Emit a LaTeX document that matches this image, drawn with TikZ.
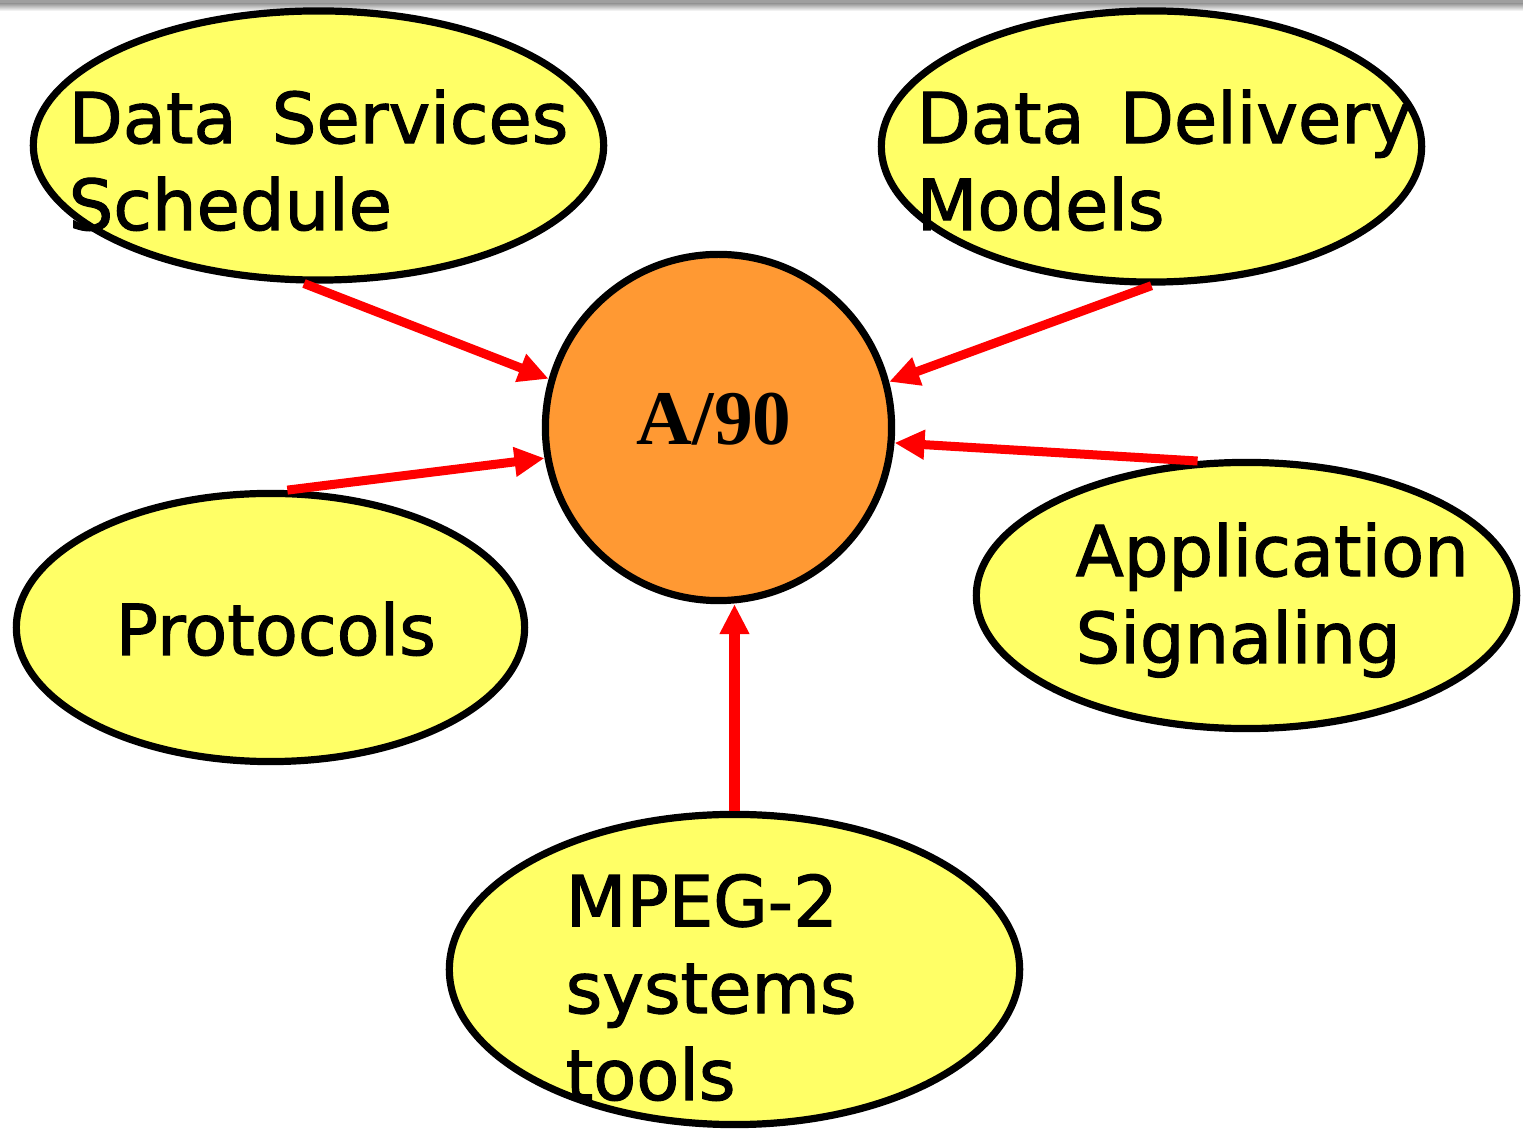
\documentclass[tikz,border=0pt]{standalone}
\usepackage{fontspec}
\usetikzlibrary{arrows.meta, shapes.geometric}
\newfontfamily\labelfont[FakeBold=1.5]{DejaVu Sans}
\newfontfamily\titlefont{Liberation Serif}
\definecolor{topicyellow}{RGB}{255, 255, 102}
\definecolor{coreorange}{RGB}{255, 153, 51}
\definecolor{feedred}{RGB}{255, 0, 0}

\begin{document}
\begin{tikzpicture}[x=0.01cm, y=-0.01cm,
    topic/.style={ellipse, draw=black, line width=0.072cm, fill=topicyellow, inner sep=0pt},
    txt/.style={anchor=base west, inner sep=0pt, align=left,
      font=\labelfont\fontsize{20}{24.7}\selectfont},
    feed/.style={draw=feedred, line width=0.09cm, -{Triangle[length=0.3cm, width=0.28cm]}}]
  \useasboundingbox (0,0) rectangle (1523,1131);

  % grey strip along the top edge
  \fill[gray!75] (0,0) rectangle (1523,4);
  \shade[top color=gray!75, bottom color=white] (0,4) rectangle (1523,11);

  % the five topics round the standard
  \node[topic, minimum width=5.70cm, minimum height=2.69cm] (dss) at (318.5,145.5) {};
  \node[topic, minimum width=5.40cm, minimum height=2.71cm] (ddm) at (1151.5,146.5) {};
  \node[topic, minimum width=5.08cm, minimum height=2.68cm] (prot) at (270.5,627.5) {};
  \node[topic, minimum width=5.40cm, minimum height=2.66cm] (app) at (1246.5,595.5) {};
  \node[topic, minimum width=5.70cm, minimum height=3.10cm] (mpeg) at (734.5,969.5) {};

  % centre circle
  \node[circle, draw=black, line width=0.072cm, fill=coreorange, inner sep=0pt,
    minimum size=3.46cm] (a90) at (718.5,427.5) {};
  \node[anchor=base, inner sep=0pt, font=\titlefont\bfseries\fontsize{22}{26}\selectfont]
    (a90txt) at (714,445) {A/90};

  % labels, set from the last baseline
  \node[txt] (dsstxt) at (68,230) {Data\hspace{0.5em}Services\\Schedule};
  \node[txt] (ddmtxt) at (916,230) {Data\hspace{0.5em}Delivery\\Models};
  \node[txt] (prottxt) at (115,655) {Protocols};
  \node[txt] (apptxt) at (1075,663) {Application\\Signaling};
  \node[txt] (mpegtxt) at (565,1100) {MPEG-2\\systems\\tools};

  % feeds into A/90
  \draw[feed] (dss.264) -- (a90.164);
  \draw[feed] (prot.83) -- (a90.190);
  \draw[feed] (ddm.south) -- (a90.15);
  \draw[feed] (app.110) -- (a90.355);
  \draw[feed, line width=0.11cm] (mpeg.north) -- (a90.south -| mpeg.north);
\end{tikzpicture}
\end{document}
